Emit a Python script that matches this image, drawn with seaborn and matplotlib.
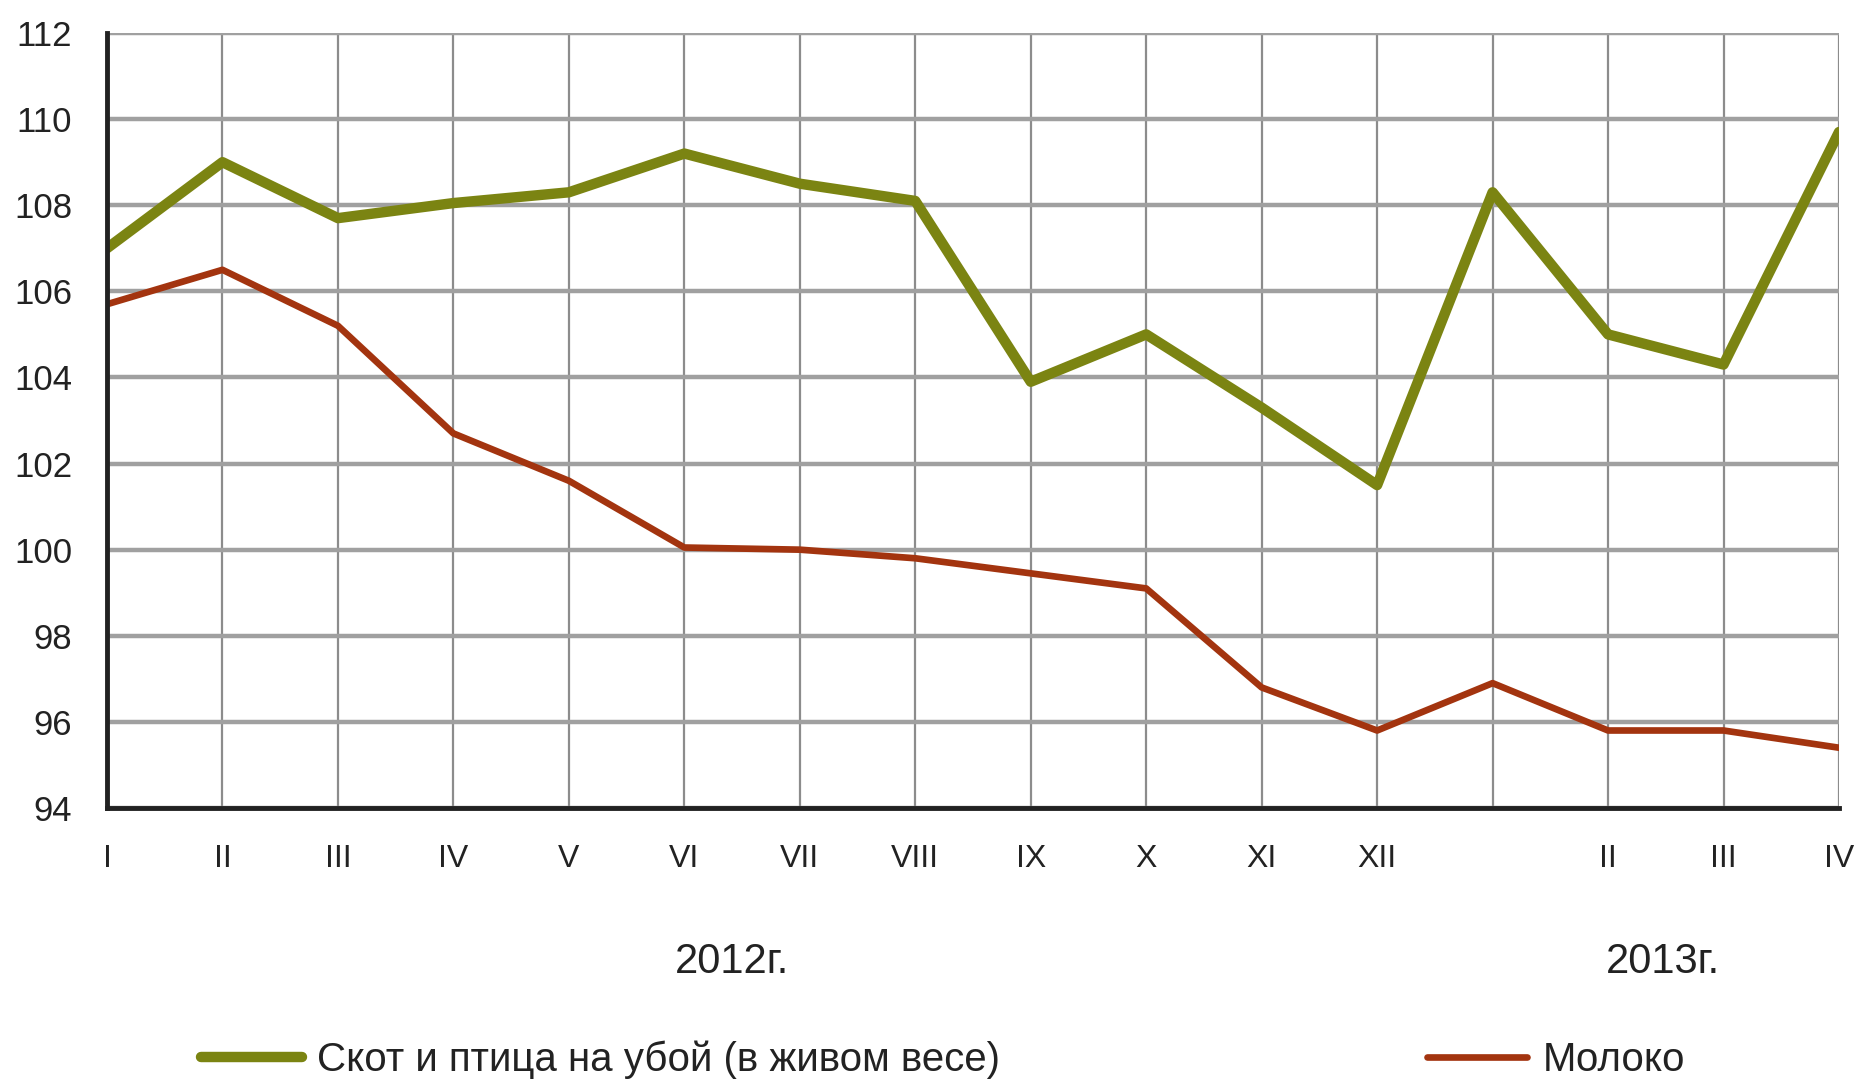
import numpy as np
import pandas as pd
import matplotlib
matplotlib.use('Agg')
import matplotlib.pyplot as plt
import seaborn as sns

# Данные (индексы, % к соответствующему месяцу предыдущего года)
months = ['I', 'II', 'III', 'IV', 'V', 'VI', 'VII', 'VIII', 'IX', 'X', 'XI', 'XII',
          '', 'II', 'III', 'IV']
skot = [107.0, 109.0, 107.7, 108.05, 108.3, 109.2, 108.5, 108.1, 103.9, 105.0,
        103.3, 101.5, 108.3, 105.0, 104.3, 109.7]
moloko = [105.7, 106.5, 105.2, 102.7, 101.6, 100.05, 100.0, 99.8, 99.45, 99.1,
          96.8, 95.8, 96.9, 95.8, 95.8, 95.4]
years = ['2012г.', '2013г.']
series_names = ['Скот и птица на убой (в живом весе)', 'Молоко']
y_ticks = list(range(94, 113, 2))

df = pd.DataFrame({'pos': np.arange(len(months)), 'skot': skot, 'moloko': moloko})

sns.set_style('white')
plt.rcParams['font.family'] = ['Liberation Sans', 'DejaVu Sans']

fig = plt.figure(figsize=(18.57, 10.83), dpi=100)
ax = fig.add_axes([107 / 1857, 1 - 808 / 1083, (1839 - 107) / 1857, (808 - 33) / 1083])

green = '#7b8412'
red = '#a3340f'
sns.lineplot(data=df, x='pos', y='skot', ax=ax, color=green, lw=7.5, legend=False,
             label=series_names[0])
sns.lineplot(data=df, x='pos', y='moloko', ax=ax, color=red, lw=4.8, legend=False,
             label=series_names[1])

ax.set_xlim(0, len(months) - 1)
ax.set_ylim(94, 112)
ax.set_xticks(df['pos'])
ax.set_xticklabels(months)
ax.set_yticks(y_ticks)
ax.set_xlabel('')
ax.set_ylabel('')

ax.set_axisbelow(True)
ax.grid(axis='y', color='#a0a0a0', lw=3.2)
ax.grid(axis='x', color='#8c8c8c', lw=1.6)
for side in ['top', 'right']:
    ax.spines[side].set_visible(False)
for side in ['left', 'bottom']:
    ax.spines[side].set_color('#222222')
    ax.spines[side].set_linewidth(3.5)

ax.tick_params(axis='y', direction='out', length=10, width=2.5, color='#222222',
               pad=15, labelsize=25, labelcolor='#222222')
ax.tick_params(axis='x', direction='out', length=9, width=2.5, color='#222222',
               pad=17, labelsize=23, labelcolor='#222222')

# подписи годов
fig.text(732 / 1857, 1 - 962 / 1083, years[0], ha='center', va='center',
         fontsize=30, color='#222222')
fig.text(1663 / 1857, 1 - 962 / 1083, years[1], ha='center', va='center',
         fontsize=30, color='#222222')

handles = ax.get_lines()[:2]
fig.legend(handles, series_names, ncol=2, loc='center left',
           bbox_to_anchor=(165 / 1857, 1 - 1060 / 1083), frameon=False,
           fontsize=29, handlelength=2.5, handletextpad=0.37, columnspacing=10.6,
           labelcolor='#222222')

fig.savefig('out.png', dpi=100)
